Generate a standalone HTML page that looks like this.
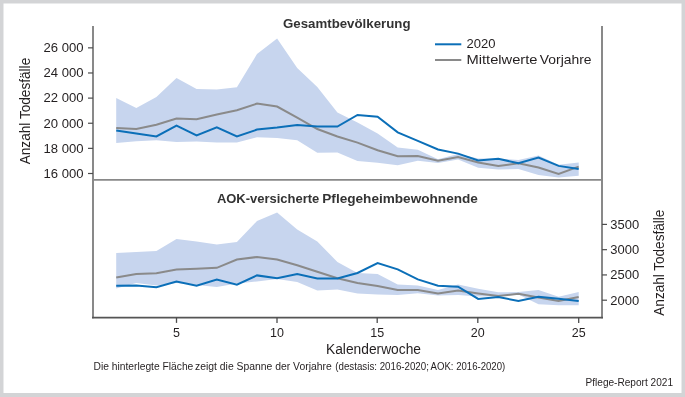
<!DOCTYPE html>
<html><head><meta charset="utf-8">
<style>
html,body{margin:0;padding:0;background:#d3d4d6;}
body{width:685px;height:397px;overflow:hidden;}
svg{display:block;will-change:transform;}
text{font-family:"Liberation Sans", sans-serif;fill:#231f20;}
.t{font-size:13.5px;}
.b{font-size:13px;font-weight:bold;fill:#333;}
.k{font-size:13.8px;}
.r{font-size:14px;}
.s{font-size:10px;}
.s2{font-size:10.2px;}
</style></head><body>
<svg width="685" height="397" viewBox="0 0 685 397">
<rect x="0" y="0" width="685" height="397" fill="#d3d4d6"/>
<rect x="3.5" y="3.5" width="678" height="389.5" fill="#ffffff"/>
<polygon points="116.2,98.0 136.3,108.0 156.4,97.0 176.5,78.0 196.6,89.0 216.8,89.6 236.9,87.2 257.0,54.0 277.1,38.6 297.2,68.0 317.3,87.0 337.4,112.5 357.5,122.5 377.6,133.5 397.7,147.5 417.8,149.8 438.0,159.2 458.1,154.0 478.2,158.5 498.3,158.5 518.4,160.1 538.5,155.5 558.6,164.8 578.7,162.5 578.7,175.7 558.6,177.4 538.5,175.0 518.4,169.0 498.3,169.4 478.2,167.7 458.1,159.5 438.0,162.9 417.8,160.8 397.7,165.2 377.6,162.8 357.5,161.0 337.4,152.4 317.3,152.8 297.2,140.2 277.1,138.0 257.0,137.2 236.9,142.4 216.8,142.5 196.6,141.6 176.5,142.0 156.4,140.3 136.3,141.2 116.2,143.0" fill="#c7d5ee"/>
<polygon points="116.2,253.0 136.3,252.0 156.4,251.0 176.5,239.0 196.6,241.6 216.8,244.4 236.9,242.0 257.0,221.0 277.1,212.4 297.2,229.6 317.3,241.4 337.4,262.0 357.5,273.0 377.6,274.0 397.7,284.6 417.8,285.6 438.0,290.0 458.1,284.4 478.2,288.7 498.3,292.2 518.4,292.1 538.5,290.1 558.6,296.7 578.7,292.1 578.7,305.2 558.6,305.2 538.5,304.2 518.4,294.6 498.3,296.3 478.2,296.5 458.1,295.1 438.0,295.5 417.8,293.2 397.7,295.0 377.6,294.4 357.5,293.4 337.4,289.4 317.3,290.4 297.2,282.0 277.1,279.0 257.0,281.4 236.9,283.5 216.8,287.0 196.6,285.0 176.5,283.0 156.4,285.5 136.3,283.0 116.2,288.4" fill="#c7d5ee"/>
<polyline points="116.2,128.0 136.3,128.9 156.4,124.8 176.5,118.6 196.6,119.2 216.8,114.6 236.9,110.3 257.0,103.6 277.1,106.5 297.2,117.6 317.3,129.0 337.4,136.5 357.5,142.6 377.6,150.2 397.7,156.2 417.8,156.0 438.0,160.8 458.1,157.0 478.2,162.5 498.3,166.0 518.4,163.3 538.5,167.5 558.6,173.9 578.7,166.6" fill="none" stroke="#8a8a8a" stroke-width="2" stroke-linejoin="miter"/>
<polyline points="116.2,130.6 136.3,133.6 156.4,136.4 176.5,125.6 196.6,135.4 216.8,127.4 236.9,136.4 257.0,129.6 277.1,127.6 297.2,125.0 317.3,126.4 337.4,126.6 357.5,115.0 377.6,116.8 397.7,132.4 417.8,140.8 438.0,149.5 458.1,153.6 478.2,160.5 498.3,158.7 518.4,163.3 538.5,157.6 558.6,165.9 578.7,169.0" fill="none" stroke="#0b6fb8" stroke-width="2" stroke-linejoin="miter"/>
<polyline points="116.2,277.5 136.3,274.0 156.4,273.2 176.5,269.4 196.6,268.8 216.8,267.8 236.9,259.5 257.0,257.0 277.1,259.5 297.2,265.2 317.3,271.8 337.4,278.3 357.5,283.0 377.6,286.0 397.7,289.9 417.8,289.9 438.0,293.4 458.1,290.6 478.2,293.4 498.3,295.9 518.4,293.8 538.5,297.6 558.6,300.9 578.7,297.1" fill="none" stroke="#8a8a8a" stroke-width="2" stroke-linejoin="miter"/>
<polyline points="116.2,285.8 136.3,285.6 156.4,287.2 176.5,281.6 196.6,285.8 216.8,279.6 236.9,284.6 257.0,275.4 277.1,278.3 297.2,274.0 317.3,278.4 337.4,278.5 357.5,273.0 377.6,263.0 397.7,269.4 417.8,279.4 438.0,285.7 458.1,286.7 478.2,298.9 498.3,297.0 518.4,301.0 538.5,296.7 558.6,298.7 578.7,300.9" fill="none" stroke="#0b6fb8" stroke-width="2" stroke-linejoin="miter"/>
<line x1="93" y1="26" x2="93" y2="318.2" stroke="#898989" stroke-width="2"/>
<line x1="602" y1="26" x2="602" y2="318.2" stroke="#898989" stroke-width="2"/>
<line x1="92" y1="179.85" x2="603" y2="179.85" stroke="#898989" stroke-width="1.8"/>
<line x1="92" y1="317.6" x2="603" y2="317.6" stroke="#555555" stroke-width="1.6"/>
<line x1="88" y1="47.85" x2="93" y2="47.85" stroke="#4d4d4d" stroke-width="1.2"/>
<text x="83.6" y="52.15" text-anchor="end" textLength="40" lengthAdjust="spacingAndGlyphs" class="t">26 000</text>
<line x1="88" y1="72.98" x2="93" y2="72.98" stroke="#4d4d4d" stroke-width="1.2"/>
<text x="83.6" y="77.28" text-anchor="end" textLength="40" lengthAdjust="spacingAndGlyphs" class="t">24 000</text>
<line x1="88" y1="98.11" x2="93" y2="98.11" stroke="#4d4d4d" stroke-width="1.2"/>
<text x="83.6" y="102.41" text-anchor="end" textLength="40" lengthAdjust="spacingAndGlyphs" class="t">22 000</text>
<line x1="88" y1="123.24" x2="93" y2="123.24" stroke="#4d4d4d" stroke-width="1.2"/>
<text x="83.6" y="127.54" text-anchor="end" textLength="40" lengthAdjust="spacingAndGlyphs" class="t">20 000</text>
<line x1="88" y1="148.37" x2="93" y2="148.37" stroke="#4d4d4d" stroke-width="1.2"/>
<text x="83.6" y="152.67" text-anchor="end" textLength="40" lengthAdjust="spacingAndGlyphs" class="t">18 000</text>
<line x1="88" y1="173.5" x2="93" y2="173.5" stroke="#4d4d4d" stroke-width="1.2"/>
<text x="83.6" y="177.80" text-anchor="end" textLength="40" lengthAdjust="spacingAndGlyphs" class="t">16 000</text>
<line x1="602" y1="224.4" x2="607" y2="224.4" stroke="#4d4d4d" stroke-width="1.2"/>
<text x="610.3" y="228.70" textLength="28.8" lengthAdjust="spacingAndGlyphs" class="t">3500</text>
<line x1="602" y1="249.67" x2="607" y2="249.67" stroke="#4d4d4d" stroke-width="1.2"/>
<text x="610.3" y="253.97" textLength="28.8" lengthAdjust="spacingAndGlyphs" class="t">3000</text>
<line x1="602" y1="274.93" x2="607" y2="274.93" stroke="#4d4d4d" stroke-width="1.2"/>
<text x="610.3" y="279.23" textLength="28.8" lengthAdjust="spacingAndGlyphs" class="t">2500</text>
<line x1="602" y1="300.2" x2="607" y2="300.2" stroke="#4d4d4d" stroke-width="1.2"/>
<text x="610.3" y="304.50" textLength="28.8" lengthAdjust="spacingAndGlyphs" class="t">2000</text>
<line x1="176.5" y1="317.5" x2="176.5" y2="322.9" stroke="#4d4d4d" stroke-width="1.3"/>
<text x="176.5" y="337.3" text-anchor="middle" textLength="6.95" lengthAdjust="spacingAndGlyphs" class="t">5</text>
<line x1="277.0" y1="317.5" x2="277.0" y2="322.9" stroke="#4d4d4d" stroke-width="1.3"/>
<text x="277.0" y="337.3" text-anchor="middle" textLength="13.90" lengthAdjust="spacingAndGlyphs" class="t">10</text>
<line x1="377.2" y1="317.5" x2="377.2" y2="322.9" stroke="#4d4d4d" stroke-width="1.3"/>
<text x="377.2" y="337.3" text-anchor="middle" textLength="13.90" lengthAdjust="spacingAndGlyphs" class="t">15</text>
<line x1="477.8" y1="317.5" x2="477.8" y2="322.9" stroke="#4d4d4d" stroke-width="1.3"/>
<text x="477.8" y="337.3" text-anchor="middle" textLength="13.90" lengthAdjust="spacingAndGlyphs" class="t">20</text>
<line x1="578.7" y1="317.5" x2="578.7" y2="322.9" stroke="#4d4d4d" stroke-width="1.3"/>
<text x="578.7" y="337.3" text-anchor="middle" textLength="13.90" lengthAdjust="spacingAndGlyphs" class="t">25</text>
<text x="283" y="28.1" textLength="127.5" lengthAdjust="spacingAndGlyphs" class="b">Gesamtbevölkerung</text>
<text x="216.9" y="202.8" textLength="102.4" lengthAdjust="spacingAndGlyphs" class="b">AOK-versicherte</text>
<text x="322.3" y="202.8" textLength="155.6" lengthAdjust="spacingAndGlyphs" class="b">Pflegeheimbewohnende</text>
<line x1="435" y1="44.3" x2="461.3" y2="44.3" stroke="#0b6fb8" stroke-width="2"/>
<line x1="435" y1="60" x2="461.3" y2="60" stroke="#8a8a8a" stroke-width="2"/>
<text x="466.6" y="48.4" textLength="29" lengthAdjust="spacingAndGlyphs" class="t">2020</text>
<text x="466.5" y="63.6" textLength="71" lengthAdjust="spacingAndGlyphs" class="t">Mittelwerte</text>
<text x="539.8" y="63.6" textLength="51.7" lengthAdjust="spacingAndGlyphs" class="t">Vorjahre</text>
<text transform="translate(29.8,164.3) rotate(-90)" x="0" y="0" textLength="106.5" lengthAdjust="spacingAndGlyphs" class="r">Anzahl Todesfälle</text>
<text transform="translate(664,315.7) rotate(-90)" x="0" y="0" textLength="106" lengthAdjust="spacingAndGlyphs" class="r">Anzahl Todesfälle</text>
<text x="326" y="354.1" textLength="95" lengthAdjust="spacingAndGlyphs" class="k">Kalenderwoche</text>
<text x="93.5" y="370" textLength="99.8" lengthAdjust="spacingAndGlyphs" class="s">Die hinterlegte Fläche</text>
<text x="195.0" y="370" textLength="136.8" lengthAdjust="spacingAndGlyphs" class="s">zeigt die Spanne der Vorjahre</text>
<text x="335.3" y="370" textLength="93.6" lengthAdjust="spacingAndGlyphs" class="s">(destasis: 2016-2020;</text>
<text x="430.6" y="370" textLength="74.6" lengthAdjust="spacingAndGlyphs" class="s">AOK: 2016-2020)</text>
<text x="585.5" y="385.5" textLength="87.5" lengthAdjust="spacingAndGlyphs" class="s2">Pflege-Report 2021</text>
</svg>
</body></html>
